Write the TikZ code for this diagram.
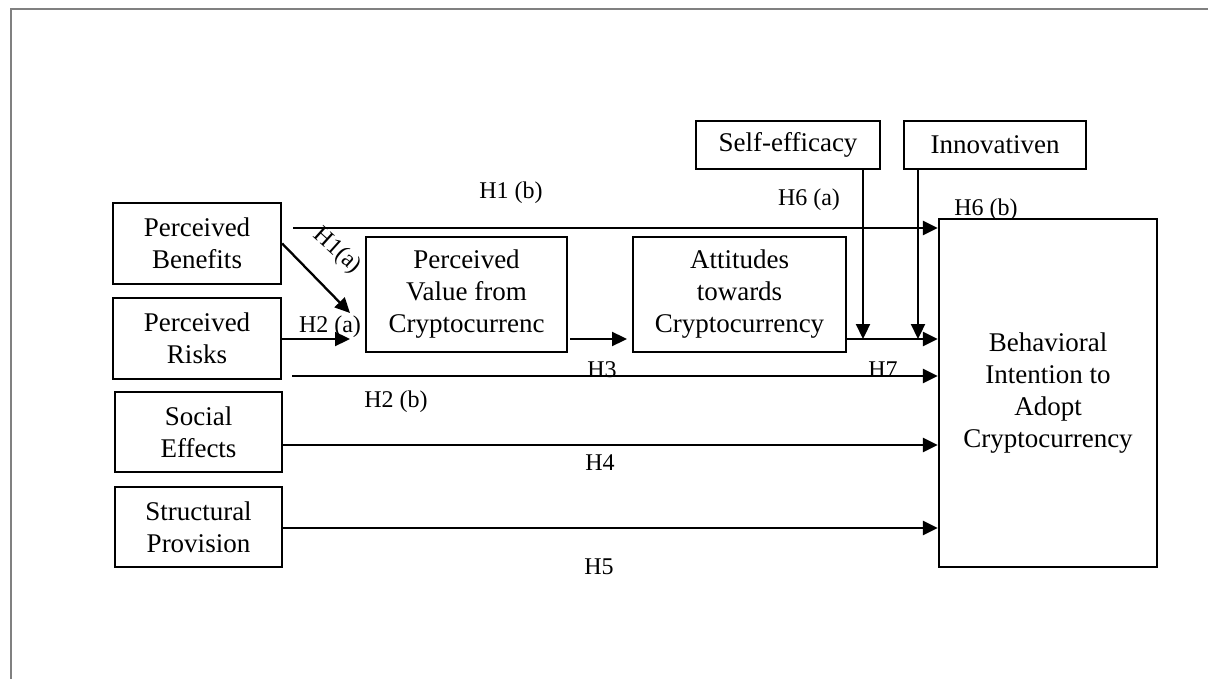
\documentclass[tikz,border=0pt]{standalone}
\usepackage{fontspec}
\setmainfont{Liberation Serif}
\usetikzlibrary{arrows.meta}
\begin{document}
\begin{tikzpicture}[x=1pt,y=-1pt,
  box/.style={draw, line width=2.3pt, inner sep=0pt, align=center, font=\fontsize{27}{32}\selectfont},
  lab/.style={inner sep=0pt, font=\fontsize{24}{28}\selectfont},
  arr/.style={line width=2.3pt, -{Triangle[length=15pt,width=14pt]}}]
\useasboundingbox (0,0) rectangle (1208,679);
\draw[color=black!50, line width=1.5pt] (11,679) -- (11,9) -- (1208,9);
% boxes
\node[box, minimum width=168pt, minimum height=81pt] (ben) at (197,243.5) {Perceived\\Benefits};
\node[box, minimum width=168pt, minimum height=81pt] (risk) at (197,338.5) {Perceived\\Risks};
\node[box, minimum width=167pt, minimum height=80pt] (soc) at (198.5,432) {Social\\Effects};
\node[box, minimum width=167pt, minimum height=80pt] (str) at (198.5,527) {Structural\\Provision};
\node[box, minimum width=201pt, minimum height=115pt] (val) at (466.5,294.5) {Perceived\\Value from\\Cryptocurrenc};
\node[box, minimum width=213pt, minimum height=115pt] (att) at (739.5,294.5) {Attitudes\\towards\\Cryptocurrency};
\node[box, minimum width=184pt, minimum height=48pt] (self) at (788,145) {Self-efficacy};
\node[box, minimum width=182pt, minimum height=48pt] (inn) at (995,145) {Innovativen};
\node[box, minimum width=218pt, minimum height=348pt] (beh) at (1048,393) {Behavioral\\Intention to\\Adopt\\Cryptocurrency};
% helper coordinates
\coordinate (h1b) at (293,228);
\coordinate (h2b) at (292,376);
\coordinate (h1atip) at (350,313);
\coordinate (h2atip) at (350,339);
\coordinate (h3s) at (570,339);
\coordinate (h3tip) at (627,339);
\coordinate (selfx) at (863,169);
\coordinate (innx) at (918,169);
\coordinate (selftip) at (863,339);
\coordinate (inntip) at (918,339);
% connectors
\draw[arr] (h1b) -- (h1b -| beh.west);
\draw[arr] (ben.east) -- (h1atip);
\draw[arr] (risk.east |- h2atip) -- (h2atip);
\draw[arr] (h3s) -- (h3tip);
\draw[arr] (att.east |- h3s) -- (beh.west |- h3s);
\draw[arr] (selfx) -- (selftip);
\draw[arr] (innx) -- (inntip);
\draw[arr] (h2b) -- (h2b -| beh.west);
\draw[arr] (soc.east |- 0,445) -- (beh.west |- 0,445);
\draw[arr] (str.east |- 0,528) -- (beh.west |- 0,528);
% labels
\node[lab] (l1b) at (511,193) {H1 (b)};
\node[lab, rotate=-42] (l1a) at (337,251) {H1(a)};
\node[lab] (l2a) at (330,327) {H2 (a)};
\node[lab] (l3) at (602,370) {H3};
\node[lab] (l7) at (883,370) {H7};
\node[lab] (l6a) at (809,200) {H6 (a)};
\node[lab] (l6b) at (986,210) {H6 (b)};
\node[lab] (l2b) at (396,402) {H2 (b)};
\node[lab] (l4) at (600,463) {H4};
\node[lab] (l5) at (599,567) {H5};
\end{tikzpicture}
\end{document}
